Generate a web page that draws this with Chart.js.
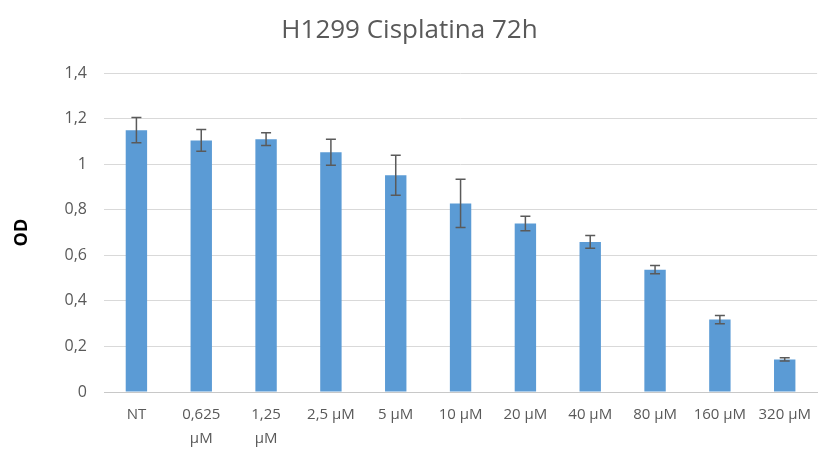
<!DOCTYPE html>
<html>
<head>
<meta charset="UTF-8">
<title>H1299 Cisplatina 72h</title>
<script src="https://cdn.jsdelivr.net/npm/chart.js@4"></script>
<style>
  html, body { margin: 0; padding: 0; background: #fff; }
  #wrap { width: 821px; height: 452px; }
</style>
</head>
<body>
<div id="wrap"><canvas id="odChart"></canvas></div>
<script>
// --- data ---
const categories = ['NT', ['0,625', 'µM'], ['1,25', 'µM'], '2,5 µM', '5 µM', '10 µM', '20 µM', '40 µM', '80 µM', '160 µM', '320 µM'];
const odValues = [1.15, 1.105, 1.11, 1.053, 0.952, 0.828, 0.74, 0.659, 0.537, 0.318, 0.143];
const odErrors = [0.055, 0.048, 0.028, 0.057, 0.088, 0.106, 0.032, 0.028, 0.018, 0.018, 0.007];
const yTicks = [0, 0.2, 0.4, 0.6, 0.8, 1, 1.2, 1.4];

const grey = '#595959';
const barBlue = '#5b9bd5';

// error bars drawn through the scales
const errorBars = {
    id: 'errorBars',
    afterDatasetsDraw(chart) {
        const ctx = chart.ctx;
        const y = chart.scales.y;
        const meta = chart.getDatasetMeta(0);
        ctx.save();
        ctx.strokeStyle = '#5a5a5a';
        ctx.lineWidth = 1.5;
        meta.data.forEach((bar, i) => {
            const top = y.getPixelForValue(odValues[i] + odErrors[i]);
            const bot = y.getPixelForValue(odValues[i] - odErrors[i]);
            const cap = 5;
            ctx.beginPath();
            ctx.moveTo(bar.x, top); ctx.lineTo(bar.x, bot);
            ctx.moveTo(bar.x - cap, top); ctx.lineTo(bar.x + cap, top);
            ctx.moveTo(bar.x - cap, bot); ctx.lineTo(bar.x + cap, bot);
            ctx.stroke();
        });
        ctx.restore();
    }
};

new Chart(document.getElementById('odChart'), {
    type: 'bar',
    data: {
        labels: categories,
        datasets: [{
            label: 'OD',
            data: odValues,
            backgroundColor: barBlue,
            barPercentage: 0.33,
            categoryPercentage: 1
        }]
    },
    options: {
        responsive: true,
        maintainAspectRatio: false,
        animation: false,
        layout: { padding: { top: 6, right: 2, left: 0, bottom: 0 } },
        plugins: {
            legend: { display: false },
            tooltip: { enabled: false },
            title: {
                display: true,
                text: 'H1299 Cisplatina 72h',
                color: grey,
                font: { family: 'Open Sans', size: 26, weight: 'normal' },
                padding: { top: 9, bottom: 27 }
            }
        },
        scales: {
            x: {
                grid: { display: false, drawTicks: false },
                border: { color: '#c8c8c8', width: 1 },
                ticks: {
                    color: grey,
                    font: { family: 'Open Sans', size: 15, lineHeight: 1.65 },
                    maxRotation: 0,
                    autoSkip: false,
                    padding: 10
                },
                afterFit(scale) { scale.height = 60; }
            },
            y: {
                min: 0,
                max: 1.4,
                afterBuildTicks(scale) { scale.ticks = yTicks.map(v => ({ value: v })); },
                grid: { color: '#d9d9d9', drawTicks: false },
                border: { display: false },
                ticks: {
                    color: grey,
                    font: { family: 'Open Sans', size: 16 },
                    padding: 17,
                    callback: v => String(v).replace('.', ',')
                },
                title: {
                    display: true,
                    text: 'OD',
                    color: '#000',
                    font: { family: 'Open Sans', size: 18, weight: 'bold' },
                    padding: { top: 11, bottom: 0 }
                },
                afterFit(scale) { scale.width = 104; }
            }
        }
    },
    plugins: [errorBars]
});
</script>
</body>
</html>
